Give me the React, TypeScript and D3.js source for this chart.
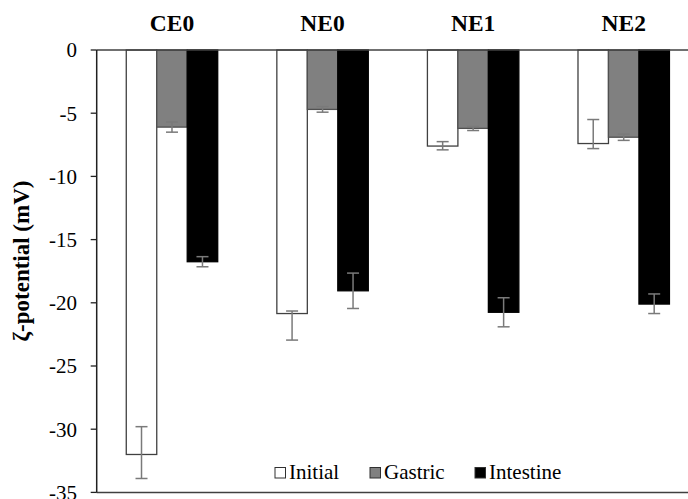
import React from "react";
import * as d3 from "d3";

const categories = ["CE0", "NE0", "NE1", "NE2"];
const seriesNames = ["Initial", "Gastric", "Intestine"];
const initialValues = [-32.0, -20.85, -7.6, -7.4];
const gastricValues = [-6.1, -4.7, -6.2, -6.9];
const intestineValues = [-16.75, -19.05, -20.75, -20.1];
// error bar extents: upper (toward 0) and lower (more negative)
const initialErrUp = [2.2, 0.2, 0.35, 1.9];
const initialErrDown = [1.9, 2.1, 0.3, 0.4];
const gastricErrUp = [0.4, 0.22, 0.15, 0.25];
const gastricErrDown = [0.4, 0.22, 0.17, 0.25];
const intestineErrUp = [0.4, 1.4, 1.15, 0.8];
const intestineErrDown = [0.4, 1.4, 1.15, 0.75];
const yTicks = [0, -5, -10, -15, -20, -25, -30, -35];

const W = 688;
const H = 499;
const FONT = "Liberation Serif";

export default function App() {
  const left = 96.7;
  const top = 50;
  const bottom = 492.4;
  const x0 = d3.scaleBand<string>().domain(categories).range([left, 699]).paddingInner(0).paddingOuter(0);
  const x1 = d3.scaleBand<string>().domain(seriesNames).range([0, x0.bandwidth()]).paddingInner(0).paddingOuter(0.97);
  const y = d3.scaleLinear().domain([0, -35]).range([top, bottom]);

  const series = [
    { name: "Initial", values: initialValues, up: initialErrUp, down: initialErrDown, fill: "#ffffff", stroke: "#404040" },
    { name: "Gastric", values: gastricValues, up: gastricErrUp, down: gastricErrDown, fill: "#808080", stroke: "#505050" },
    { name: "Intestine", values: intestineValues, up: intestineErrUp, down: intestineErrDown, fill: "#000000", stroke: "#000000" },
  ];

  const legendItems = [
    { name: "Initial", x: 275, fill: "#ffffff" },
    { name: "Gastric", x: 370, fill: "#808080" },
    { name: "Intestine", x: 475, fill: "#000000" },
  ];

  const txt = { fontFamily: FONT } as React.CSSProperties;

  return (
    <svg width={W} height={H} style={{ position: "absolute", left: 0, top: 0, background: "#fff" }}>
      {/* bars */}
      {series.map((s) =>
        categories.map((c, i) => {
          const bx = (x0(c) ?? 0) + (x1(s.name) ?? 0);
          const bw = x1.bandwidth();
          const v = s.values[i];
          return (
            <rect
              key={s.name + c}
              x={bx}
              y={y(0)}
              width={bw}
              height={y(v) - y(0)}
              fill={s.fill}
              stroke={s.stroke}
              strokeWidth={1.3}
            />
          );
        })
      )}
      {/* error bars */}
      {series.map((s) =>
        categories.map((c, i) => {
          const cx = (x0(c) ?? 0) + (x1(s.name) ?? 0) + x1.bandwidth() / 2;
          const v = s.values[i];
          const yu = y(v + s.up[i]);
          const yd = y(v - s.down[i]);
          return (
            <g key={"e" + s.name + c} stroke="#7a7a7a" strokeWidth={1.5}>
              <line x1={cx} x2={cx} y1={yu} y2={yd} />
              <line x1={cx - 6} x2={cx + 6} y1={yu} y2={yu} />
              <line x1={cx - 6} x2={cx + 6} y1={yd} y2={yd} />
            </g>
          );
        })
      )}
      {/* axes */}
      <line x1={left} x2={W} y1={y(0)} y2={y(0)} stroke="#404040" strokeWidth={1.5} />
      <line x1={left} x2={W} y1={bottom} y2={bottom} stroke="#404040" strokeWidth={1.5} />
      <line x1={left} x2={left} y1={top} y2={bottom} stroke="#202020" strokeWidth={1.5} />
      {yTicks.map((t) => (
        <g key={"t" + t}>
          <line x1={left - 6} x2={left} y1={y(t)} y2={y(t)} stroke="#202020" strokeWidth={1.3} />
          <text x={77} y={y(t)} dy="0.35em" textAnchor="end" style={txt} fontSize={21} fill="#000">
            {t}
          </text>
        </g>
      ))}
      {/* category labels */}
      {categories.map((c) => (
        <text
          key={"c" + c}
          x={(x0(c) ?? 0) + x0.bandwidth() / 2}
          y={30.5}
          textAnchor="middle"
          style={txt}
          fontWeight="bold"
          fontSize={23.5}
          fill="#000"
        >
          {c}
        </text>
      ))}
      {/* y label */}
      <text
        transform={`translate(29, 261) rotate(-90)`}
        textAnchor="middle"
        style={txt}
        fontWeight="bold"
        fontSize={23}
        fill="#000"
      >
        ζ-potential (mV)
      </text>
      {/* legend */}
      {legendItems.map((l) => (
        <g key={"l" + l.name}>
          <rect x={l.x} y={467.5} width={10.5} height={10.5} fill={l.fill} stroke="#303030" strokeWidth={1} />
          <text x={l.x + 14} y={478.5} style={txt} fontSize={21} fill="#000">
            {l.name}
          </text>
        </g>
      ))}
    </svg>
  );
}
